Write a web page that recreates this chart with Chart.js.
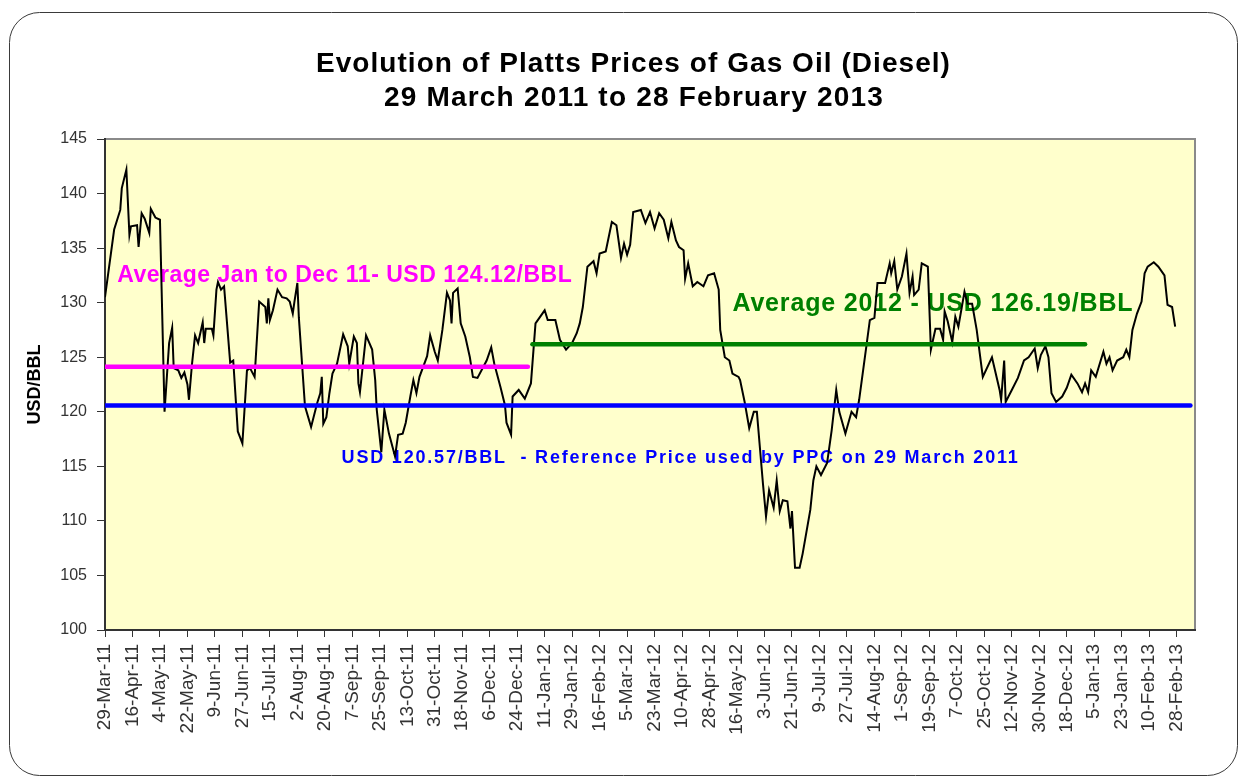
<!DOCTYPE html>
<html>
<head>
<meta charset="utf-8">
<script src="https://cdn.jsdelivr.net/npm/chart.js@4.4.1/dist/chart.umd.min.js"></script>
<style>
  html, body { margin: 0; padding: 0; background: #fff; }
</style>
</head>
<body>
<canvas id="gasoil" width="1244" height="780"></canvas>
<script>
// tick labels, one every 18 days starting 29-Mar-11
const tickLabels = ['29-Mar-11','16-Apr-11','4-May-11','22-May-11','9-Jun-11','27-Jun-11','15-Jul-11','2-Aug-11',
  '20-Aug-11','7-Sep-11','25-Sep-11','13-Oct-11','31-Oct-11','18-Nov-11','6-Dec-11','24-Dec-11',
  '11-Jan-12','29-Jan-12','16-Feb-12','5-Mar-12','23-Mar-12','10-Apr-12','28-Apr-12','16-May-12',
  '3-Jun-12','21-Jun-12','9-Jul-12','27-Jul-12','14-Aug-12','1-Sep-12','19-Sep-12','7-Oct-12',
  '25-Oct-12','12-Nov-12','30-Nov-12','18-Dec-12','5-Jan-13','23-Jan-13','10-Feb-13','28-Feb-13'];
const tickDays = tickLabels.map((_, i) => i * 18);

// days since 29-Mar-11 and Platts gas oil price (USD/BBL)
const days = [0,6,10,11,14,16,17,21,22,24,26,29,30,33,36,39,42,44,45,48,50,52,54,55,57,59,61,64,65,66,70,71,73,74,76,78,
  82,84,87,90,93,95,98,101,105,106,107,108,110,113,116,119,121,123,124,126,127,131,135,139,141,142,143,145,147,149,152,
  156,159,160,163,165,166,167,171,175,177,178,181,183,186,190,192,195,197,200,202,204,206,211,213,216,218,221,224,226,
  227,228,231,233,236,239,241,244,250,253,255,259,262,263,266,267,271,275,279,282,288,290,295,298,302,306,309,311,313,
  316,320,322,324,328,332,335,338,340,342,344,346,351,354,357,360,363,366,369,371,374,376,379,380,382,385,388,392,395,
  399,402,403,406,409,411,415,416,419,422,425,427,431,433,435,438,440,442,444,447,449,450,452,455,457,462,464,466,469,
  473,476,479,481,485,489,492,494,499,501,504,506,511,514,515,517,519,522,525,527,529,530,533,535,539,541,544,547,549,
  550,552,555,557,559,563,565,568,571,575,581,586,587,589,590,594,598,602,605,609,611,613,616,618,620,623,627,630,633,
  637,640,642,644,646,649,654,656,658,660,663,667,669,671,673,676,679,681,683,687,690,694,696,699,701];
const prices = [130.5,136.7,138.5,140.5,142.2,136.2,137.0,137.1,135.1,138.2,137.7,136.4,138.6,137.8,137.6,120.0,126.3,
  127.7,124.0,123.8,123.1,123.6,122.5,121.1,124.4,127.0,126.3,128.2,126.3,127.6,127.6,127.0,131.2,131.9,131.2,131.5,
  124.5,124.7,118.2,117.1,123.8,124.0,123.2,130.1,129.6,128.1,130.4,128.4,129.3,131.2,130.5,130.4,130.1,129.0,130.0,
  131.8,128.6,120.5,118.6,120.8,121.7,123.2,118.9,119.5,121.7,123.5,124.4,127.1,126.0,124.4,126.9,126.3,122.6,121.8,
  127.0,125.7,122.9,120.2,116.3,120.2,118.0,115.9,117.9,118.0,119.0,121.4,122.9,121.7,123.2,125.1,127.0,125.5,124.7,
  127.5,130.9,130.2,128.1,130.9,131.3,128.1,126.9,125.0,123.2,123.1,124.7,125.9,124.4,122.3,120.6,119.0,117.9,121.4,
  122.0,121.2,122.6,128.1,129.3,128.4,128.4,126.6,125.7,126.3,127.2,128.1,129.6,133.3,133.8,132.7,134.5,134.7,137.4,
  137.1,134.1,135.4,134.4,135.3,138.3,138.5,137.3,138.3,136.8,138.2,137.6,135.9,137.4,135.7,135.1,134.8,132.2,133.6,
  131.5,131.9,131.5,132.5,132.7,131.2,127.5,125.0,124.7,123.5,123.2,122.9,120.9,118.5,120.0,120.0,113.4,110.4,112.8,
  111.2,113.7,110.9,111.9,111.8,109.3,110.9,105.7,105.7,107.0,111.0,113.7,115.0,114.2,115.3,118.3,122.0,120.0,118.0,
  120.0,119.5,121.1,126.3,128.4,128.6,131.8,131.8,133.6,132.7,133.8,131.2,132.4,134.5,130.9,132.4,130.7,131.2,133.6,
  133.3,125.7,127.6,127.6,126.6,129.2,128.3,126.4,128.7,127.8,131.0,129.9,129.9,127.5,123.2,125.0,122.0,121.1,124.7,
  120.9,122.0,123.1,124.7,125.0,125.8,124.0,125.2,126.0,125.0,121.7,120.9,121.4,122.2,123.4,122.6,121.8,122.6,121.8,
  123.8,123.2,125.5,124.4,125.0,123.8,124.7,125.0,125.7,125.0,127.5,129.0,130.1,132.7,133.3,133.7,133.3,132.5,129.8,
  129.6,127.8];

// reference lines: value, first day, last day
const avg2011 = [124.12, 0, 277];
const avg2012 = [126.19, 280, 642];
const refLine = [120.57, 0, 711];

const FONT = '"Liberation Sans", Arial, sans-serif';

const seg = a => [{ x: a[1], y: a[0] }, { x: a[2], y: a[0] }];

const notes = [
  { text: 'Average Jan to Dec 11- USD 124.12/BBL', x: 8, y: 132.5, color: '#ff00ff', font: 'bold 23px ' + FONT, width: 455 },
  { text: 'Average 2012 - USD 126.19/BBL', x: 411, y: 129.9, color: '#008000', font: 'bold 25px ' + FONT, width: 401 },
  { text: 'USD 120.57/BBL  - Reference Price used by PPC on 29 March 2011', x: 155, y: 115.8, color: '#0000ff', font: 'bold 18px ' + FONT, width: 678 }
];

// draw text spread with letter spacing so it spans the given width
function fitText(ctx, text, x, y, font, width) {
  ctx.font = font;
  ctx.letterSpacing = '0px';
  const w = ctx.measureText(text).width;
  ctx.letterSpacing = Math.max(0, (width - w) / text.length) + 'px';
  ctx.fillText(text, x, y);
  ctx.letterSpacing = '0px';
}

const framePlugin = {
  id: 'frame',
  beforeDraw(chart) {
    const { ctx, chartArea: a } = chart;
    ctx.save();
    ctx.fillStyle = '#fff';
    ctx.fillRect(0, 0, chart.width, chart.height);
    ctx.beginPath();
    ctx.roundRect(9.5, 12.5, 1228, 763, 30);
    ctx.strokeStyle = '#3a3a3a';
    ctx.lineWidth = 1;
    ctx.stroke();
    ctx.fillStyle = '#ffffcc';
    ctx.fillRect(a.left, a.top, a.width, a.height);
    ctx.strokeStyle = '#8a8a8a';
    ctx.lineWidth = 2;
    ctx.beginPath();
    ctx.moveTo(a.left, a.top);
    ctx.lineTo(a.right, a.top);
    ctx.lineTo(a.right, a.bottom);
    ctx.stroke();
    ctx.restore();
  },
  beforeDatasetsDraw(chart) {
    const { ctx, scales } = chart;
    ctx.save();
    ctx.textAlign = 'left';
    ctx.textBaseline = 'middle';
    notes.forEach(n => {
      ctx.fillStyle = n.color;
      fitText(ctx, n.text, scales.x.getPixelForValue(n.x), scales.y.getPixelForValue(n.y), n.font, n.width);
    });
    ctx.restore();
  },
  afterDraw(chart) {
    const ctx = chart.ctx;
    ctx.save();
    ctx.fillStyle = '#000';
    ctx.textAlign = 'left';
    ctx.textBaseline = 'middle';
    fitText(ctx, 'Evolution of Platts Prices of Gas Oil (Diesel)', 316, 64, 'bold 28px ' + FONT, 635);
    fitText(ctx, '29 March 2011 to 28 February 2013', 384, 98, 'bold 28px ' + FONT, 500);
    ctx.restore();
  }
};

new Chart(document.getElementById('gasoil'), {
  type: 'line',
  data: {
    datasets: [
      { data: seg(refLine), borderColor: '#0000ff', borderWidth: 4.5, borderCapStyle: 'round' },
      { data: seg(avg2011), borderColor: '#ff00ff', borderWidth: 4.5, borderCapStyle: 'round' },
      { data: seg(avg2012), borderColor: '#008000', borderWidth: 4.5, borderCapStyle: 'round' },
      { data: days.map((d, i) => ({ x: d, y: prices[i] })), borderColor: '#000', borderWidth: 2 }
    ]
  },
  options: {
    responsive: false,
    animation: false,
    events: [],
    elements: { point: { radius: 0 }, line: { tension: 0, fill: false } },
    layout: { padding: { left: 20, right: 49, top: 139, bottom: 10 } },
    plugins: { legend: { display: false }, tooltip: { enabled: false }, title: { display: false } },
    scales: {
      x: {
        type: 'linear',
        min: 0,
        max: 714,
        afterBuildTicks: s => { s.ticks = tickDays.map(v => ({ value: v })); },
        afterFit: s => { s.height = 780 - 630 - 10; },
        grid: { drawOnChartArea: false, tickLength: 7, color: '#333', lineWidth: 1 },
        border: { color: '#333', width: 2 },
        ticks: {
          autoSkip: false,
          maxRotation: 90,
          minRotation: 90,
          padding: 7,
          color: '#333',
          font: { family: FONT, size: 19 },
          callback: v => tickLabels[tickDays.indexOf(v)]
        }
      },
      y: {
        min: 100,
        max: 145,
        afterFit: s => { s.width = 105 - 20; },
        grid: { drawOnChartArea: false, tickLength: 8, color: '#333', lineWidth: 1 },
        border: { color: '#333', width: 2 },
        title: { display: true, text: 'USD/BBL', color: '#000', font: { family: FONT, size: 18, weight: 'bold' } },
        ticks: { stepSize: 5, padding: 10, color: '#333', font: { family: FONT, size: 16 } }
      }
    }
  },
  plugins: [framePlugin]
});
</script>
</body>
</html>
